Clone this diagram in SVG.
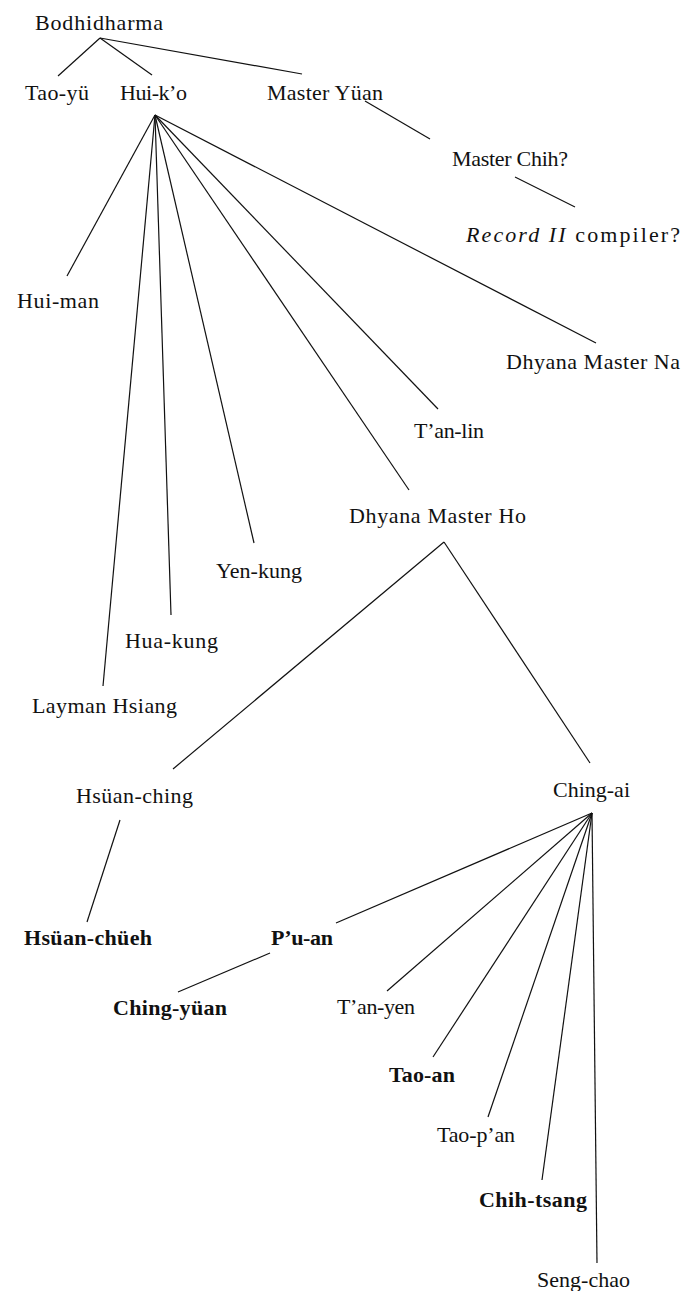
<svg xmlns="http://www.w3.org/2000/svg" width="682" height="1291" viewBox="0 0 682 1291">
<style>
text{font-family:"Liberation Serif","Times New Roman",serif;font-size:22px;fill:#111}
.b{font-weight:bold}
.i{font-style:italic}
#connectors line{stroke:#111;stroke-width:1.2}
</style>
<rect width="682" height="1291" fill="#fff"/>
<g id="connectors">
<line x1="100" y1="38" x2="58" y2="76"/>
<line x1="100" y1="38" x2="152" y2="75"/>
<line x1="100" y1="38" x2="302" y2="74"/>
<line x1="365" y1="101" x2="430" y2="139"/>
<line x1="515" y1="177" x2="575" y2="207"/>
<line x1="155" y1="115" x2="67" y2="276"/>
<line x1="155" y1="115" x2="103" y2="686"/>
<line x1="155" y1="115" x2="171" y2="615"/>
<line x1="155" y1="115" x2="254" y2="543"/>
<line x1="155" y1="115" x2="409" y2="490"/>
<line x1="155" y1="115" x2="438" y2="409"/>
<line x1="155" y1="115" x2="596" y2="343"/>
<line x1="444" y1="542" x2="173" y2="769"/>
<line x1="444" y1="542" x2="590" y2="763"/>
<line x1="120" y1="820" x2="87" y2="922"/>
<line x1="270" y1="953" x2="178" y2="992"/>
<line x1="592" y1="813" x2="336" y2="923"/>
<line x1="592" y1="813" x2="387" y2="991"/>
<line x1="592" y1="813" x2="433" y2="1057"/>
<line x1="592" y1="813" x2="488" y2="1117"/>
<line x1="592" y1="813" x2="542" y2="1180"/>
<line x1="592" y1="813" x2="597" y2="1263"/>
</g>
<g id="bodhidharma"><text x="35" y="30" textLength="128" lengthAdjust="spacing">Bodhidharma</text></g>
<g id="tao-yu"><text x="25" y="100" textLength="64" lengthAdjust="spacing">Tao-yü</text></g>
<g id="hui-ko"><text x="120" y="100" textLength="67" lengthAdjust="spacing">Hui-k’o</text></g>
<g id="master-yuan"><text x="267" y="100" textLength="116" lengthAdjust="spacing">Master Yüan</text></g>
<g id="master-chih"><text x="452" y="166" textLength="116" lengthAdjust="spacing">Master Chih?</text></g>
<g id="record-compiler"><text x="466" y="242" textLength="214" lengthAdjust="spacing"><tspan class="i">Record II</tspan> compiler?</text></g>
<g id="hui-man"><text x="17" y="308" textLength="82" lengthAdjust="spacing">Hui-man</text></g>
<g id="dhyana-na"><text x="506" y="369" textLength="174" lengthAdjust="spacing">Dhyana Master Na</text></g>
<g id="tan-lin"><text x="414" y="438" textLength="70" lengthAdjust="spacing">T’an-lin</text></g>
<g id="dhyana-ho"><text x="349" y="523" textLength="177" lengthAdjust="spacing">Dhyana Master Ho</text></g>
<g id="yen-kung"><text x="216" y="578" textLength="86" lengthAdjust="spacing">Yen-kung</text></g>
<g id="hua-kung"><text x="125" y="648" textLength="93" lengthAdjust="spacing">Hua-kung</text></g>
<g id="layman-hsiang"><text x="32" y="713" textLength="145" lengthAdjust="spacing">Layman Hsiang</text></g>
<g id="hsuan-ching"><text x="76" y="803" textLength="117" lengthAdjust="spacing">Hsüan-ching</text></g>
<g id="ching-ai"><text x="553" y="797" textLength="77" lengthAdjust="spacing">Ching-ai</text></g>
<g id="hsuan-chueh"><text class="b" x="24" y="945" textLength="128" lengthAdjust="spacing">Hsüan-chüeh</text></g>
<g id="pu-an"><text class="b" x="271" y="945" textLength="62" lengthAdjust="spacing">P’u-an</text></g>
<g id="ching-yuan"><text class="b" x="113" y="1015" textLength="114" lengthAdjust="spacing">Ching-yüan</text></g>
<g id="tan-yen"><text x="337" y="1014" textLength="78" lengthAdjust="spacing">T’an-yen</text></g>
<g id="tao-an"><text class="b" x="389" y="1082" textLength="66" lengthAdjust="spacing">Tao-an</text></g>
<g id="tao-pan"><text x="437" y="1142" textLength="78" lengthAdjust="spacing">Tao-p’an</text></g>
<g id="chih-tsang"><text class="b" x="479" y="1207" textLength="108" lengthAdjust="spacing">Chih-tsang</text></g>
<g id="seng-chao"><text x="537" y="1287" textLength="93" lengthAdjust="spacing">Seng-chao</text></g>
</svg>
